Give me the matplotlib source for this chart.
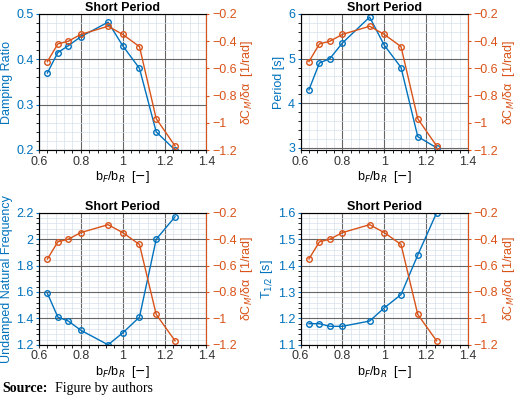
import matplotlib
matplotlib.use("Agg")
import matplotlib.pyplot as plt
from matplotlib.ticker import AutoMinorLocator

plt.rcParams['font.family'] = ['Liberation Sans', 'DejaVu Sans']
plt.rcParams['font.size'] = 9

BLUE = "#0072BD"
RED = "#D95319"

ratio = [0.64, 0.69, 0.74, 0.80, 0.93, 1.00, 1.08, 1.16, 1.25]
dcm = [-0.55, -0.42, -0.40, -0.35, -0.29, -0.35, -0.44, -0.97, -1.17]
damping = [0.37, 0.415, 0.43, 0.45, 0.482, 0.43, 0.38, 0.24, 0.20]
period = [4.3, 4.9, 5.0, 5.35, 5.93, 5.3, 4.8, 3.25, 3.0]
omega = [1.59, 1.41, 1.38, 1.31, 1.20, 1.29, 1.41, 2.0, 2.17]
t_half = [1.18, 1.18, 1.17, 1.17, 1.19, 1.24, 1.29, 1.44, 1.60]

panels = [
    (damping, "Damping Ratio", (0.2, 0.5), [0.2, 0.3, 0.4, 0.5]),
    (period, "Period [s]", (2.95, 6.0), [3, 4, 5, 6]),
    (omega, "Undamped Natural Frequency", (1.2, 2.2), [1.2, 1.4, 1.6, 1.8, 2.0, 2.2]),
    (t_half, r"T$_{1/2}$ [s]", (1.1, 1.6), [1.1, 1.2, 1.3, 1.4, 1.5, 1.6]),
]

fig = plt.figure(figsize=(5.2, 4.0), dpi=100)
positions = [(0.075, 0.625, 0.34), (0.578, 0.625, 0.34),
             (0.075, 0.138, 0.33), (0.578, 0.138, 0.33)]
for (vals, ylab, ylim, yt), (x0, y0, h) in zip(panels, positions):
    ax = fig.add_axes([x0, y0, 0.322, h])
    ax.plot(ratio, vals, "o-", color=BLUE, ms=4, mfc="none", lw=1)
    ax.set_xlim(0.6, 1.4)
    ax.set_xticks([0.6, 0.8, 1.0, 1.2, 1.4])
    ax.set_xticklabels(["0.6", "0.8", "1", "1.2", "1.4"])
    ax.set_ylim(*ylim)
    ax.set_yticks(yt)
    ax.set_yticklabels([f"{v:g}" for v in yt])
    ax.xaxis.set_minor_locator(AutoMinorLocator(5))
    ax.yaxis.set_minor_locator(AutoMinorLocator(5))
    ax.grid(which="major", color="#666666", lw=0.8)
    ax.grid(which="minor", color="#d8e0ec", lw=0.5)
    ax.set_axisbelow(True)
    ax.set_ylabel(ylab, color=BLUE, labelpad=2)
    ax.tick_params(axis="y", colors=BLUE, length=2, pad=2)
    ax.tick_params(axis="x", length=2, pad=2, colors="#333333")
    ax.set_xlabel(r"b$_F$/b$_R$  [$-$]", labelpad=1)
    ax.set_title("Short Period", fontweight="bold", fontsize=9, pad=2)
    for s in ax.spines.values():
        s.set_color("#888888")
    ax.spines["left"].set_color(BLUE)

    ax2 = ax.twinx()
    ax2.plot(ratio, dcm, "o-", color=RED, ms=4, mfc="none", lw=1)
    ax2.set_ylim(-1.2, -0.2)
    ax2.set_yticks([-1.2, -1.0, -0.8, -0.6, -0.4, -0.2])
    ax2.set_yticklabels(["\u22121.2", "\u22121", "\u22120.8", "\u22120.6", "\u22120.4", "\u22120.2"])
    ax2.tick_params(axis="y", colors=RED, length=2, pad=2)
    ax2.spines["right"].set_color(RED)
    ax2.set_ylabel(r"δC$_M$/δα  [1/rad]", color=RED, labelpad=2)

fig.text(0.005, 0.02, "Source:", fontsize=10, fontweight="bold",
         family="Liberation Serif")
fig.text(0.105, 0.02, "Figure by authors", fontsize=10, family="Liberation Serif")
fig.savefig("out.png", dpi=100)
